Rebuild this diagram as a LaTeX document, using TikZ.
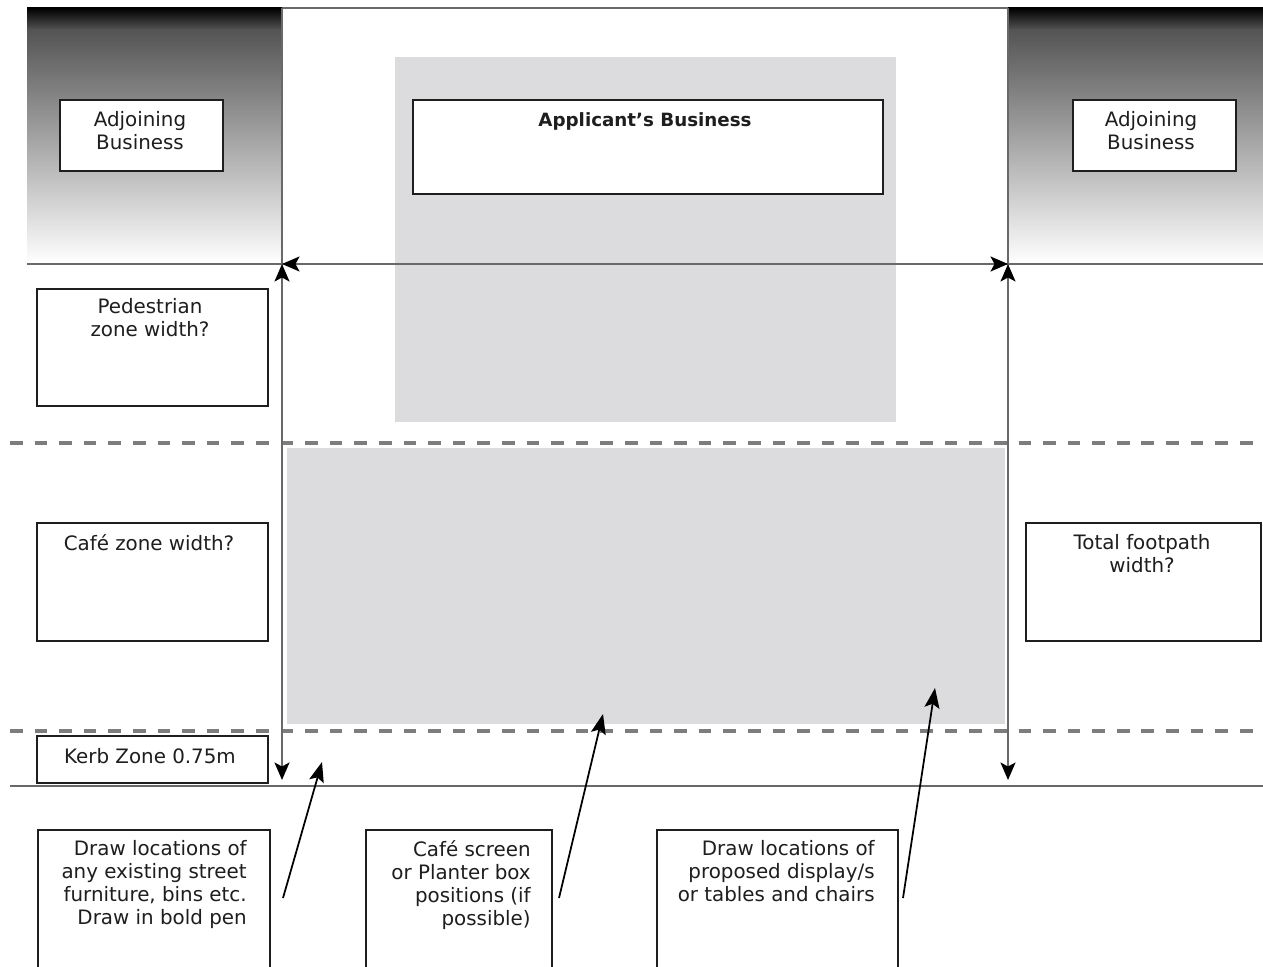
\documentclass[tikz,border=0pt]{standalone}
\usepackage{fontspec}
\setmainfont{DejaVu Sans}
\usetikzlibrary{arrows.meta}
\definecolor{zonegray}{RGB}{220,220,222}
\definecolor{linegray}{RGB}{105,105,105}
\definecolor{dashgray}{RGB}{125,125,125}
\definecolor{inkc}{RGB}{30,30,30}
\begin{document}
\begin{tikzpicture}[x=0.02cm,y=-0.02cm,
 box/.style={draw=inkc,line width=1.1pt,fill=white,inner sep=0pt,anchor=north west},
 lbl/.style={font=\fontsize{11.3}{13.1}\selectfont,align=center,inner sep=0pt,text=inkc},
 struct/.style={draw=linegray,line width=1.6pt},
 thinline/.style={draw=linegray,line width=1.1pt},
 dimarrow/.style={draw=linegray,line width=1.1pt,{Stealth[length=3.5mm,width=3mm,inset=0.8mm,color=black]}-{Stealth[length=3.5mm,width=3mm,inset=0.8mm,color=black]}},
 pointer/.style={draw=black,line width=1pt,-{Stealth[length=4mm,width=3mm,inset=0.8mm]}},
 zonedash/.style={draw=dashgray,line width=1.8pt,dash pattern=on 7.2pt off 6.8pt}]
\useasboundingbox (0,0) rectangle (1263,966);
\clip (0,0) rectangle (1263,966);
% adjoining shaded blocks
\shade[top color=black, bottom color=black!67] (27,8) rectangle (282,30);
\shade[top color=black!67, middle color=black!37, bottom color=white] (27,30) rectangle (282,263);
\shade[top color=black, bottom color=black!67] (1008,8) rectangle (1263,30);
\shade[top color=black!67, middle color=black!37, bottom color=white] (1008,30) rectangle (1263,263);
% grey zones
\fill[zonegray] (395,57) rectangle (896,422);
\fill[zonegray] (287,448) rectangle (1005,724);
% structural lines
\draw[thinline] (282,8) -- (1008,8);
\draw[thinline] (282,8) -- (282,264);
\draw[thinline] (1008,8) -- (1008,264);
\draw[struct] (27,264) -- (1263,264);
\draw[struct] (10,786) -- (1263,786);
\draw[zonedash] (10,443) -- (1263,443);
\draw[zonedash] (10,731) -- (1263,731);
% dimension corners
\coordinate (tl) at (282,264);
\coordinate (tr) at (1008,264);
\coordinate (bl) at (282,780);
\coordinate (br) at (1008,780);
\draw[dimarrow] (tl) -- (tr);
\draw[dimarrow] (tl) -- (bl);
\draw[dimarrow] (tr) -- (br);
% boxes
\node[box,minimum width=3.26cm,minimum height=1.42cm] (adjL) at (59,99) {};
\node[box,minimum width=3.26cm,minimum height=1.42cm] (adjR) at (1072,99) {};
\node[box,minimum width=9.4cm,minimum height=1.88cm] (app) at (412,99) {};
\node[box,minimum width=4.62cm,minimum height=2.34cm] (ped) at (36,288) {};
\node[box,minimum width=4.62cm,minimum height=2.36cm] (cafe) at (36,522) {};
\node[box,minimum width=4.7cm,minimum height=2.36cm] (total) at (1025,522) {};
\node[box,minimum width=4.62cm,minimum height=0.94cm] (kerb) at (36,735) {};
\node[box,minimum width=4.64cm,minimum height=3.2cm] (furn) at (37,829) {};
\node[box,minimum width=3.72cm,minimum height=3.2cm] (screen) at (365,829) {};
\node[box,minimum width=4.82cm,minimum height=3.2cm] (tables) at (656,829) {};
% texts
\node[lbl,anchor=north] (adjLt) at (140,111) {Adjoining\\Business};
\node[lbl,anchor=north] (adjRt) at (1151,111) {Adjoining\\Business};
\node[lbl,anchor=north,font=\fontsize{10.4}{13.1}\selectfont\bfseries] (appt) at (645,112) {Applicant's Business};
\node[lbl,anchor=north] (pedt) at (150,298) {Pedestrian\\zone width?};
\node[lbl,anchor=north] (cafet) at (149,534) {Café zone width?};
\node[lbl,anchor=north] (totalt) at (1142,534) {Total footpath\\width?};
\node[lbl] (kerbt) at (150,756) {Kerb Zone 0.75m};
\node[lbl,anchor=north east,align=right] (furnt) at (247,840) {Draw locations of\\any existing street\\furniture, bins etc.\\Draw in bold pen};
\node[lbl,anchor=north east,align=right] (screent) at (531,840) {Café screen\\or Planter box\\positions (if\\possible)};
\node[lbl,anchor=north east,align=right] (tablest) at (875,840) {Draw locations of\\proposed display/s\\or tables and chairs};
% pointers
\coordinate (p1s) at (283,898); \coordinate (p1e) at (322,762);
\coordinate (p2s) at (559,898); \coordinate (p2e) at (603,714);
\coordinate (p3s) at (903,898); \coordinate (p3e) at (935,688);
\draw[pointer] (p1s) -- (p1e);
\draw[pointer] (p2s) -- (p2e);
\draw[pointer] (p3s) -- (p3e);
\end{tikzpicture}
\end{document}
